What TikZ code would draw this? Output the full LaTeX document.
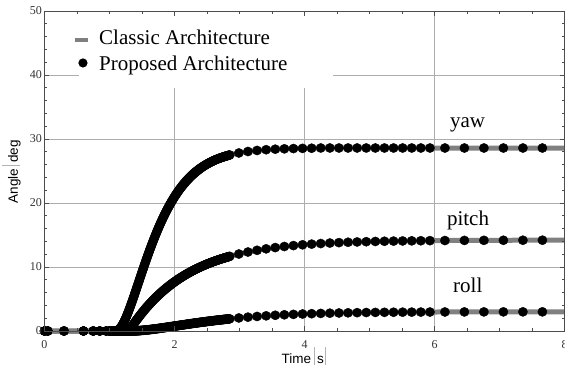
\documentclass[tikz,border=0pt]{standalone}
\usepackage{fontspec}
\setmainfont{Liberation Serif}
\newfontfamily\axisfont{Liberation Sans}
\newcommand\qsep{\textcolor{black!30}{\rule[-0.3ex]{0.5pt}{2.5ex}}}
\begin{document}
\begin{tikzpicture}[x=65pt,y=6.4pt,
  declare function={
    yawf(\t)=28.6*(1-(1+max(\t-1.1,0)/0.346)*exp(-max(\t-1.1,0)/0.346));
    pitchf(\t)=14.2*(1-exp(-max(\t-1.3,0)/0.9));
    rollf(\t)=3.0*(1-(1+max(\t-1.3,0)/0.72)*exp(-max(\t-1.3,0)/0.72));
  },
  gridline/.style={draw=black!32, line width=0.8pt},
  framestyle/.style={draw=black!70, line width=0.8pt},
  tickstyle/.style={draw=black!70, line width=0.7pt},
  classic/.style={draw=black!50, line width=5pt},
  dotplot/.style={only marks, mark=*, mark size=4.6pt},
  ticklab/.style={font=\fontsize{12}{12}\selectfont, text=black!80, inner sep=0pt},
  curvelab/.style={font=\fontsize{21}{21}\selectfont, anchor=base west, inner sep=0pt},
  leglab/.style={font=\fontsize{21}{21}\selectfont, anchor=base west, inner sep=0pt},
  axislab/.style={font=\axisfont\fontsize{13.5}{14}\selectfont, anchor=base, inner sep=0pt},
]
\useasboundingbox (-0.6846,-7.03) rectangle (8.0077,51.72);
% grid
\foreach \yv in {10,20,30,40} \draw[gridline] (0,\yv) -- (8,\yv);
\foreach \xv in {2,4,6} \draw[gridline] (\xv,0) -- (\xv,50);
% legend background
\fill[white] (0.531,37.97) rectangle (4.438,50);
% classic curves
\draw[classic] plot[domain=0:8, samples=300] (\x,{yawf(\x)});
\draw[classic] plot[domain=0:8, samples=300] (\x,{pitchf(\x)});
\draw[classic] plot[domain=0:8, samples=300] (\x,{rollf(\x)});
% proposed curves (dots)
\def\samplist{0,0.05,0.3,0.6,0.75,0.85,0.95,1.0,1.01,...,2.85,2.99,3.13,...,5.93,6.16,6.46,...,7.96}
\fill[black] plot[dotplot, samples at=\samplist] (\x,{rollf(\x)});
\fill[black] plot[dotplot, samples at=\samplist] (\x,{pitchf(\x)});
\fill[black] plot[dotplot, samples at=\samplist] (\x,{yawf(\x)});
% frame and ticks
\draw[framestyle] (0,0) rectangle (8,50);
\foreach \xv in {0.5,1,...,7.5} {
  \draw[tickstyle] (\xv,0) -- ++(0pt,3pt);
  \draw[tickstyle] (\xv,50) -- ++(0pt,-3pt);
}
\foreach \xv in {2,4,6} {
  \draw[tickstyle] (\xv,0) -- ++(0pt,5pt);
  \draw[tickstyle] (\xv,50) -- ++(0pt,-5pt);
}
\foreach \yv in {2,4,...,48} {
  \draw[tickstyle] (0,\yv) -- ++(3pt,0pt);
  \draw[tickstyle] (8,\yv) -- ++(-3pt,0pt);
}
\foreach \yv in {10,20,...,40} {
  \draw[tickstyle] (0,\yv) -- ++(5pt,0pt);
  \draw[tickstyle] (8,\yv) -- ++(-5pt,0pt);
}
% tick labels
\foreach \xv in {0,2,4,6,8}
  \node[ticklab, anchor=north, yshift=-9pt] (bx\xv) at (\xv,0) {\xv};
\foreach \yv in {0,10,20,30,40,50}
  \node[ticklab, anchor=east, xshift=-2.5pt] (ly\yv) at (0,\yv) {\yv};
% axis labels
\node[axislab] (xlab) at (3.985,-5.0) {Time\hspace{3pt}\qsep\hspace{2.5pt}s\hspace{1pt}\qsep};
\node[axislab, rotate=90] (ylab) at (-0.408,24.92) {Angle\hspace{3pt}\qsep\hspace{2.5pt}deg};
% curve labels
\node[curvelab] (yaw) at (6.238,31.72) {yaw};
\node[curvelab] (pitch) at (6.19,16.56) {pitch};
\node[curvelab] (roll) at (6.285,5.94) {roll};
% legend
\draw[draw=black!50, line width=4.5pt] (0.469,45.47) -- (0.669,45.47);
\fill[black] (0.592,41.88) circle[radius=4.6pt];
\node[leglab] (leg1) at (0.838,44.69) {Classic Architecture};
\node[leglab] (leg2) at (0.838,40.70) {Proposed Architecture};
\end{tikzpicture}
\end{document}
